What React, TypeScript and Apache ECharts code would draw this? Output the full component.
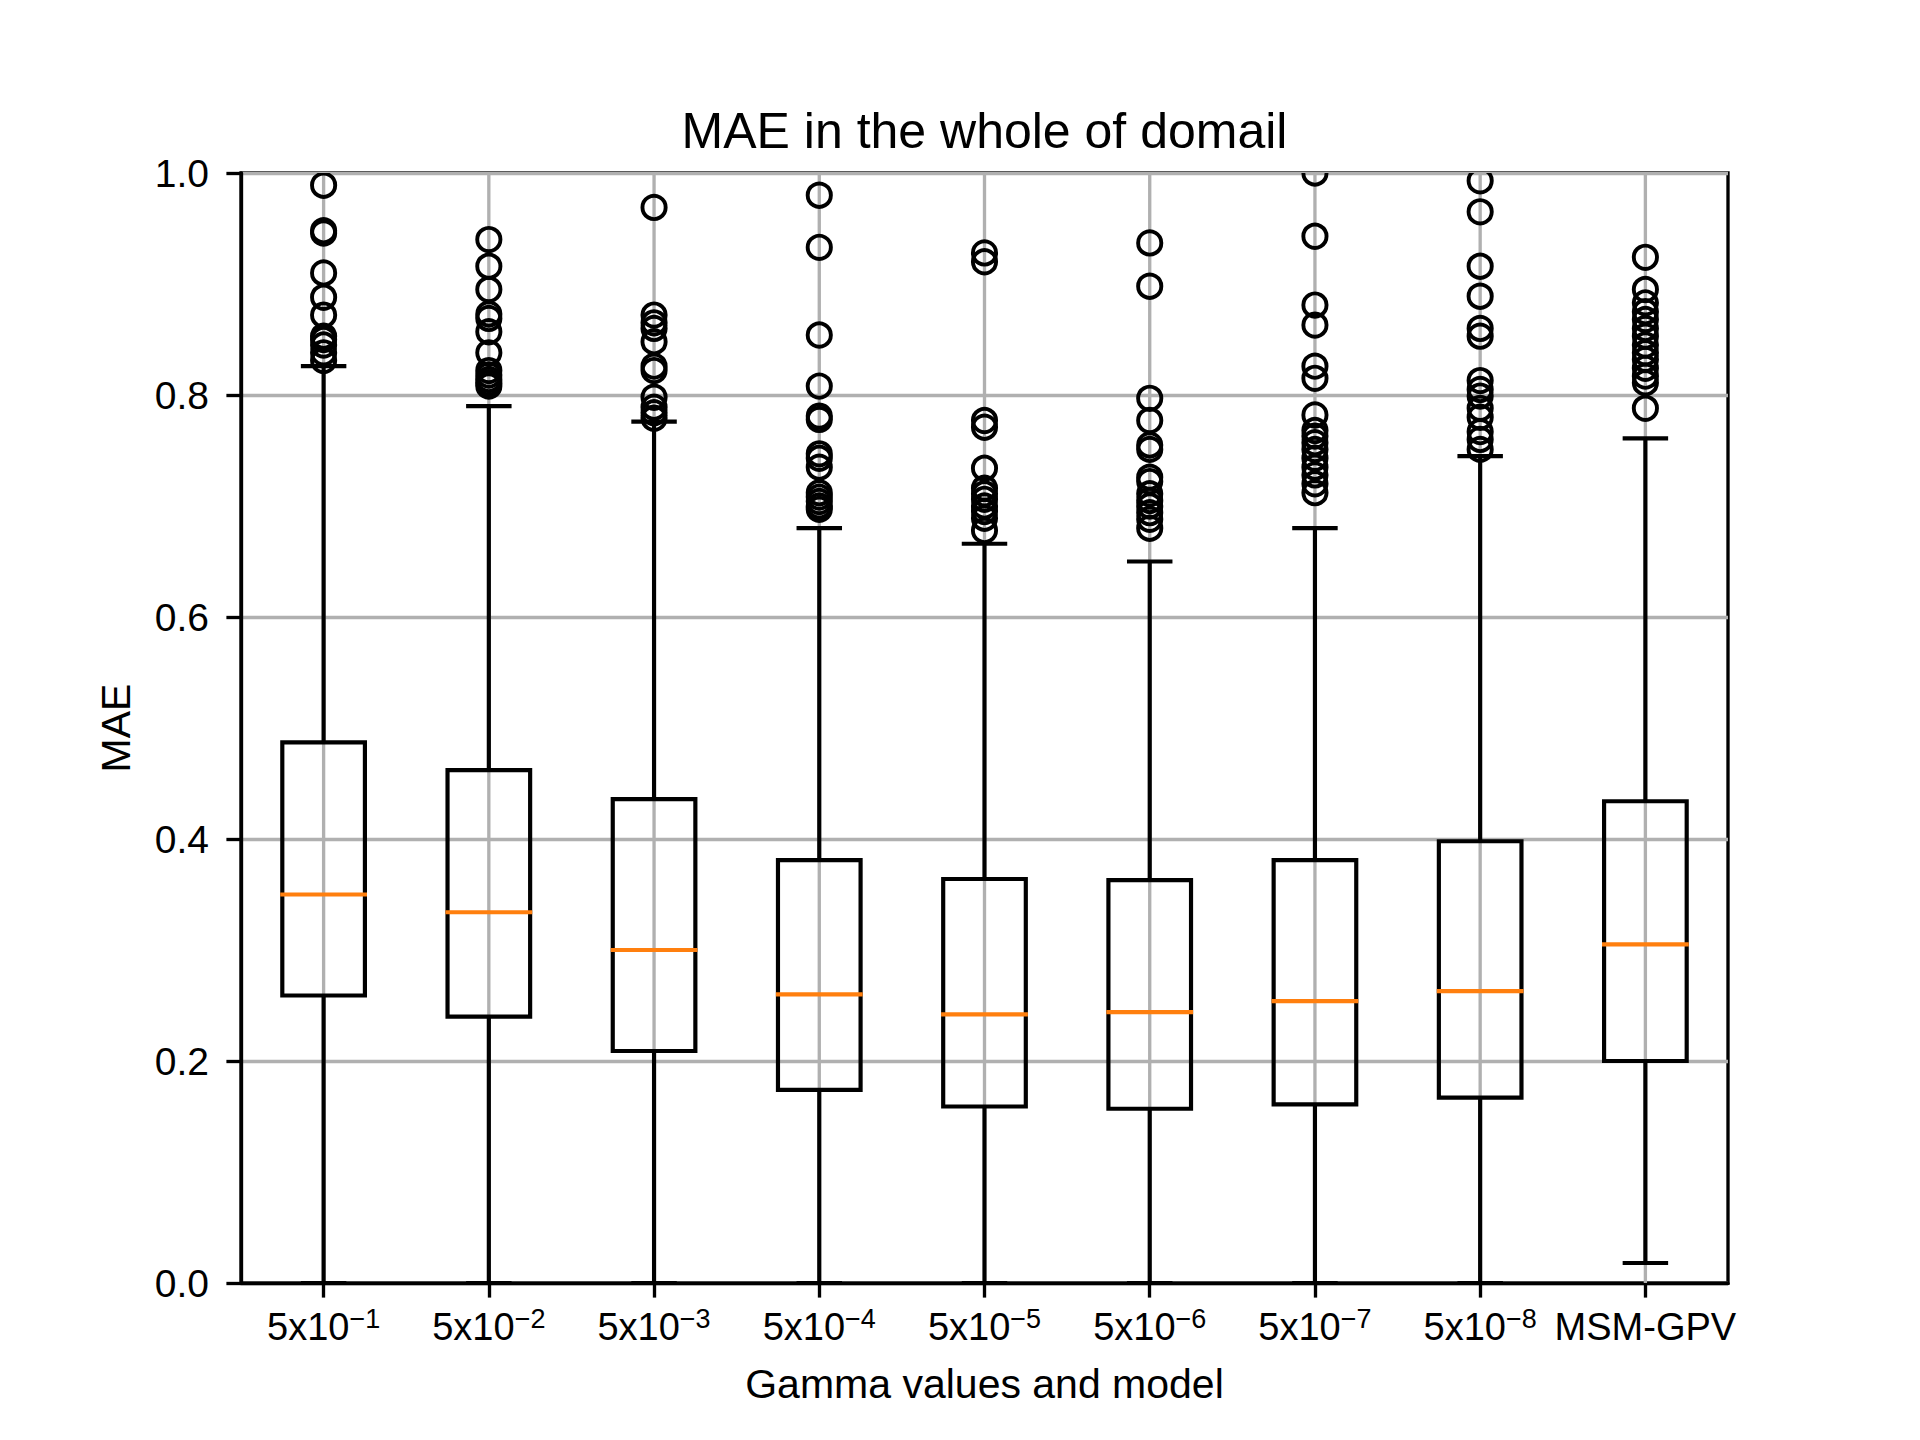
import React, { useEffect, useRef } from 'react';
import * as echarts from 'echarts';

// ---- data ----
const categories = ['5x10^−1', '5x10^−2', '5x10^−3', '5x10^−4', '5x10^−5', '5x10^−6', '5x10^−7', '5x10^−8', 'MSM-GPV'];
const yTicks = [0, 0.2, 0.4, 0.6, 0.8, 1.0];

const lowWhisker = [0.0, 0.0, 0.0, 0.0, 0.0, 0.0, 0.0, 0.0, 0.018];
const q1 = [0.259, 0.240, 0.209, 0.174, 0.159, 0.157, 0.161, 0.167, 0.200];
const median = [0.350, 0.334, 0.300, 0.260, 0.242, 0.244, 0.254, 0.263, 0.305];
const q3 = [0.487, 0.462, 0.436, 0.381, 0.364, 0.363, 0.381, 0.398, 0.434];
const highWhisker = [0.826, 0.790, 0.776, 0.680, 0.666, 0.650, 0.680, 0.745, 0.761];

const outliers1 = [0.989, 0.948, 0.946, 0.910, 0.888, 0.872, 0.853, 0.850, 0.845, 0.838, 0.831];
const outliers2 = [0.940, 0.916, 0.895, 0.873, 0.869, 0.857, 0.838, 0.822, 0.818, 0.814, 0.811, 0.808];
const outliers3 = [0.969, 0.872, 0.865, 0.860, 0.848, 0.826, 0.822, 0.798, 0.789, 0.784, 0.779];
const outliers4 = [0.980, 0.933, 0.854, 0.808, 0.781, 0.778, 0.747, 0.743, 0.735, 0.712, 0.708, 0.704, 0.700, 0.697];
const outliers5 = [0.928, 0.920, 0.777, 0.771, 0.734, 0.716, 0.711, 0.706, 0.700, 0.695, 0.689, 0.678];
const outliers6 = [0.937, 0.898, 0.797, 0.777, 0.755, 0.751, 0.726, 0.722, 0.711, 0.705, 0.700, 0.694, 0.688, 0.680];
const outliers7 = [1.0, 0.943, 0.881, 0.863, 0.826, 0.815, 0.782, 0.768, 0.763, 0.757, 0.751, 0.743, 0.735, 0.728, 0.720, 0.712];
const outliers8 = [0.993, 0.965, 0.916, 0.889, 0.860, 0.853, 0.813, 0.805, 0.799, 0.788, 0.780, 0.767, 0.760, 0.751];
const outliers9 = [0.924, 0.895, 0.883, 0.875, 0.868, 0.860, 0.853, 0.845, 0.838, 0.832, 0.824, 0.817, 0.811, 0.788];
const outlierLists = [outliers1, outliers2, outliers3, outliers4, outliers5, outliers6, outliers7, outliers8, outliers9];

const titleText = 'MAE in the whole of domail';
const xLabel = 'Gamma values and model';
const yLabel = 'MAE';

const FONT = 'Liberation Sans, Arial, sans-serif';
const LW = 4.17;
const SPINE = 3.33;

export default function App() {
  const ref = useRef<HTMLDivElement>(null);
  useEffect(() => {
    if (!ref.current) return;
    const chart = echarts.init(ref.current, null, { renderer: 'svg' });

    const boxData = categories.map((_, i) => [i, lowWhisker[i], q1[i], median[i], q3[i], highWhisker[i]]);
    const gridData = categories.map((_, i) => [i, 0]);
    const outlierData: number[][] = [];
    outlierLists.forEach((list, i) => list.forEach((v) => outlierData.push([i, v])));

    const plotLeft = 241, plotRight = 1728, plotTop = 173, plotBottom = 1283;
    const cxPlot = (plotLeft + plotRight) / 2;

    const option: any = {
      animation: false,
      backgroundColor: '#fff',
      textStyle: { fontFamily: FONT },
      grid: {
        left: plotLeft,
        right: 1920 - plotRight,
        top: plotTop,
        bottom: 1440 - plotBottom,
        show: true,
        borderColor: '#000',
        borderWidth: SPINE,
        backgroundColor: 'transparent',
      },
      xAxis: {
        type: 'category',
        data: categories,
        boundaryGap: true,
        axisLine: { show: true, lineStyle: { color: '#000', width: SPINE } },
        axisTick: { show: true, alignWithLabel: true, length: 14.6, lineStyle: { color: '#000', width: SPINE } },
        splitLine: { show: false },
        axisLabel: {
          interval: 0,
          margin: 22,
          color: '#000',
          fontFamily: FONT,
          formatter: (v: string) => {
            const parts = v.split('^');
            if (parts.length === 2) return '{b|' + parts[0] + '}{s|' + parts[1] + '}';
            return '{b|' + v + '}';
          },
          rich: {
            b: { fontSize: 38, lineHeight: 44, fontFamily: FONT, color: '#000' },
            s: { fontSize: 27, lineHeight: 26, verticalAlign: 'top', fontFamily: FONT, color: '#000' },
          },
        },
      },
      yAxis: {
        type: 'value',
        min: 0,
        max: 1,
        interval: 0.2,
        axisLine: { show: true, lineStyle: { color: '#000', width: SPINE } },
        axisTick: { show: true, length: 14.6, lineStyle: { color: '#000', width: SPINE } },
        axisLabel: {
          margin: 32,
          fontSize: 39,
          color: '#000',
          fontFamily: FONT,
          formatter: (v: number) => {
            const t = yTicks.find((y) => Math.abs(y - v) < 1e-9);
            return (t !== undefined ? t : v).toFixed(1);
          },
        },
        splitLine: { show: true, lineStyle: { color: '#b0b0b0', width: SPINE } },
      },
      graphic: [
        {
          type: 'text',
          x: cxPlot,
          y: 131,
          style: { text: titleText, fontSize: 50, fontFamily: FONT, fill: '#000', align: 'center', verticalAlign: 'middle' },
        },
        {
          type: 'text',
          x: cxPlot,
          y: 1384,
          style: { text: xLabel, fontSize: 41, fontFamily: FONT, fill: '#000', align: 'center', verticalAlign: 'middle' },
        },
        {
          type: 'text',
          x: 116,
          y: (plotTop + plotBottom) / 2,
          rotation: Math.PI / 2,
          style: { text: yLabel, fontSize: 41, fontFamily: FONT, fill: '#000', align: 'center', verticalAlign: 'middle' },
        },
      ],
      series: [
        {
          type: 'custom',
          name: 'vgrid',
          z: 1,
          silent: true,
          data: gridData,
          encode: { x: 0, y: 1 },
          renderItem: (params: any, api: any) => {
            const cs = params.coordSys;
            const cx = api.coord([api.value(0), 0])[0];
            return {
              type: 'line',
              shape: { x1: cx, y1: cs.y, x2: cx, y2: cs.y + cs.height },
              style: { stroke: '#b0b0b0', lineWidth: SPINE },
            };
          },
        },
        {
          type: 'custom',
          name: 'boxes',
          z: 3,
          data: boxData,
          encode: { x: 0, y: [1, 2, 3, 4, 5] },
          renderItem: (params: any, api: any) => {
            const i = api.value(0);
            const cx = api.coord([i, 0])[0];
            const yLow = api.coord([i, api.value(1)])[1];
            const yQ1 = api.coord([i, api.value(2)])[1];
            const yMed = api.coord([i, api.value(3)])[1];
            const yQ3 = api.coord([i, api.value(4)])[1];
            const yHigh = api.coord([i, api.value(5)])[1];
            const band = api.size([1, 0])[0];
            const hw = band * 0.25;
            const cw = band * 0.125;
            const st = { stroke: '#000', lineWidth: LW, fill: 'none' };
            const stCap = { stroke: '#000', lineWidth: LW, lineCap: 'square' };
            return {
              type: 'group',
              children: [
                { type: 'line', shape: { x1: cx, y1: yQ1, x2: cx, y2: yLow }, style: st },
                { type: 'line', shape: { x1: cx, y1: yQ3, x2: cx, y2: yHigh }, style: st },
                { type: 'line', shape: { x1: cx - cw, y1: yLow, x2: cx + cw, y2: yLow }, style: stCap },
                { type: 'line', shape: { x1: cx - cw, y1: yHigh, x2: cx + cw, y2: yHigh }, style: stCap },
                { type: 'rect', shape: { x: cx - hw, y: yQ3, width: 2 * hw, height: yQ1 - yQ3 }, style: { stroke: '#000', lineWidth: LW, fill: 'none', lineJoin: 'miter' } },
                { type: 'line', shape: { x1: cx - hw, y1: yMed, x2: cx + hw, y2: yMed }, style: { stroke: '#ff7f0e', lineWidth: LW, lineCap: 'square' } },
              ],
            };
          },
        },
        {
          type: 'custom',
          name: 'outliers',
          z: 4,
          clip: true,
          data: outlierData,
          encode: { x: 0, y: 1 },
          renderItem: (params: any, api: any) => {
            const p = api.coord([api.value(0), api.value(1)]);
            return {
              type: 'circle',
              shape: { cx: p[0], cy: p[1], r: 11.6 },
              style: { fill: 'none', stroke: '#000', lineWidth: 3.9 },
            };
          },
        },
      ],
    };
    chart.setOption(option);
    return () => chart.dispose();
  }, []);
  return <div ref={ref} style={{ width: 1920, height: 1440, position: 'absolute', left: 0, top: 0, background: '#fff' }} />;
}
